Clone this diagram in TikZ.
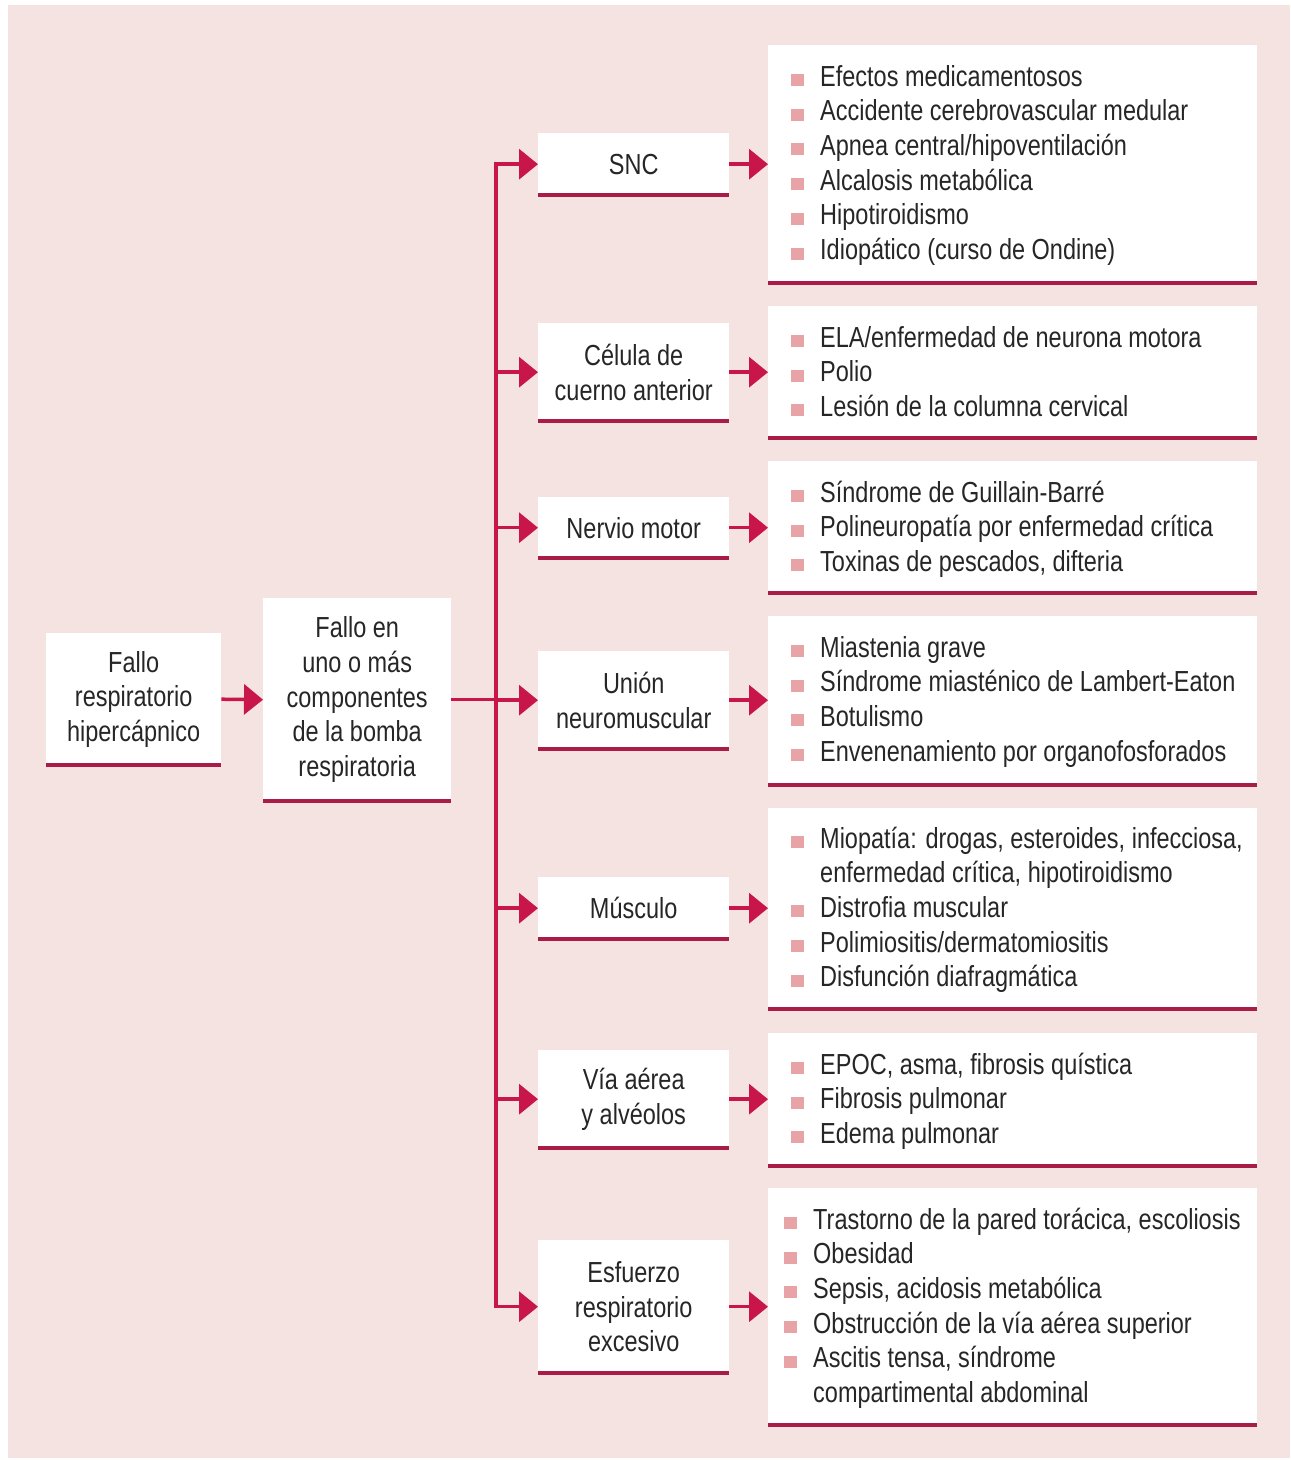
\documentclass[tikz,border=0pt]{standalone}
\usepackage{fontspec}
\setmainfont[FakeStretch=0.81]{Liberation Sans}
\usetikzlibrary{arrows.meta}
\definecolor{panel}{HTML}{F5E3E1}
\definecolor{crimson}{HTML}{C8164B}
\definecolor{rulered}{HTML}{A91C47}
\definecolor{bul}{HTML}{E8A3A6}
\definecolor{ink}{HTML}{262626}
% square pink bullet followed by the gap before the item text
\newcommand\bsq{\textcolor{bul}{\rule{13pt}{12pt}}\hspace{16pt}}
\newcommand\nob{\hspace{29pt}}
\tikzset{
  txt/.style={font=\fontsize{29}{34.7}\selectfont, text=ink},
  box/.style={txt, fill=white, inner sep=0pt, align=center, anchor=north west},
  item/.style={txt, inner sep=0pt, anchor=base west},
  botline/.style={draw=rulered, line width=4pt},
  conn/.style={draw=crimson, line width=3.5pt},
  arr/.style={conn, -{Triangle[length=19pt,width=30pt]}},
}
\begin{document}
\begin{tikzpicture}[x=1pt,y=-1pt]
\useasboundingbox (0,0) rectangle (1291,1460);
\fill[white] (0,0) rectangle (1291,1460);
\fill[panel] (8,5) rectangle (1290,1458);

% left column
\node[box, minimum width=175, minimum height=132] (fallo) at (46,633)
  {Fallo\\respiratorio\\hipercápnico};
\node[box, minimum width=188, minimum height=203] (bomba) at (263,598)
  {Fallo en\\uno o más\\componentes\\de la bomba\\respiratoria};

% middle column
\node[box, minimum width=191, minimum height=62] (snc) at (538,133) {SNC};
\node[box, minimum width=191, minimum height=98] (celula) at (538,323) {Célula de\\cuerno anterior};
\node[box, minimum width=191, minimum height=61] (nervio) at (538,497) {Nervio motor};
\node[box, minimum width=191, minimum height=98] (union) at (538,651) {Unión\\neuromuscular};
\node[box, minimum width=191, minimum height=62] (musculo) at (538,877) {Músculo};
\node[box, minimum width=191, minimum height=98] (via) at (538,1050) {Vía aérea\\y alvéolos};
\node[box, minimum width=191, minimum height=133] (esfuerzo) at (538,1240) {Esfuerzo\\respiratorio\\excesivo};

% right column panels
\node[box, minimum width=489, minimum height=238] (r1) at (768,45) {};
\node[box, minimum width=489, minimum height=132] (r2) at (768,306) {};
\node[box, minimum width=489, minimum height=132] (r3) at (768,461) {};
\node[box, minimum width=489, minimum height=169] (r4) at (768,616) {};
\node[box, minimum width=489, minimum height=201] (r5) at (768,808) {};
\node[box, minimum width=489, minimum height=133] (r6) at (768,1033) {};
\node[box, minimum width=489, minimum height=237] (r7) at (768,1188) {};

% underlines
\foreach \n in {fallo,bomba,snc,celula,nervio,union,musculo,via,esfuerzo,r1,r2,r3,r4,r5,r6,r7}
  \draw[botline] (\n.south west) -- (\n.south east);

% lists
\node[item] (r1a) at (791,86)    {\bsq Efectos medicamentosos};
\node[item] (r1b) at (791,120.7) {\bsq Accidente cerebrovascular medular};
\node[item] (r1c) at (791,155.4) {\bsq Apnea central/hipoventilación};
\node[item] (r1d) at (791,190.1) {\bsq Alcalosis metabólica};
\node[item] (r1e) at (791,224.8) {\bsq Hipotiroidismo};
\node[item] (r1f) at (791,259.5) {\bsq Idiopático (curso de Ondine)};

\node[item] (r2a) at (791,347)   {\bsq ELA/enfermedad de neurona motora};
\node[item] (r2b) at (791,381.7) {\bsq Polio};
\node[item] (r2c) at (791,416.4) {\bsq Lesión de la columna cervical};

\node[item] (r3a) at (791,502)   {\bsq Síndrome de Guillain-Barré};
\node[item] (r3b) at (791,536.7) {\bsq Polineuropatía por enfermedad crítica};
\node[item] (r3c) at (791,571.4) {\bsq Toxinas de pescados, difteria};

\node[item] (r4a) at (791,657)   {\bsq Miastenia grave};
\node[item] (r4b) at (791,691.7) {\bsq Síndrome miasténico de Lambert-Eaton};
\node[item] (r4c) at (791,726.4) {\bsq Botulismo};
\node[item] (r4d) at (791,761.1) {\bsq Envenenamiento por organofosforados};

\node[item] (r5a) at (791,848)   {\bsq Miopatía: drogas, esteroides, infecciosa,};
\node[item] (r5b) at (791,882.7) {\nob enfermedad crítica, hipotiroidismo};
\node[item] (r5c) at (791,917.4) {\bsq Distrofia muscular};
\node[item] (r5d) at (791,952.1) {\bsq Polimiositis/dermatomiositis};
\node[item] (r5e) at (791,986.8) {\bsq Disfunción diafragmática};

\node[item] (r6a) at (791,1074)   {\bsq EPOC, asma, fibrosis quística};
\node[item] (r6b) at (791,1108.7) {\bsq Fibrosis pulmonar};
\node[item] (r6c) at (791,1143.4) {\bsq Edema pulmonar};

\node[item] (r7a) at (784,1229)   {\bsq Trastorno de la pared torácica, escoliosis};
\node[item] (r7b) at (784,1263.7) {\bsq Obesidad};
\node[item] (r7c) at (784,1298.4) {\bsq Sepsis, acidosis metabólica};
\node[item] (r7d) at (784,1333.1) {\bsq Obstrucción de la vía aérea superior};
\node[item] (r7e) at (784,1367.8) {\bsq Ascitis tensa, síndrome};
\node[item] (r7f) at (784,1402.5) {\nob compartimental abdominal};

% connectors
\coordinate (tx) at (496,0);
\draw[arr] (fallo.east) -- (bomba.west);
\draw[conn] (bomba.east) -- (bomba.east -| tx);
\draw[conn, line cap=rect] (snc.west -| tx) -- (esfuerzo.west -| tx);
\foreach \m/\r in {snc/r1,celula/r2,nervio/r3,union/r4,musculo/r5,via/r6,esfuerzo/r7}{
  \draw[arr] (\m.west -| tx) -- (\m.west);
  \draw[arr] (\m.east) -- (\m.east -| \r.west);
}
\end{tikzpicture}
\end{document}
